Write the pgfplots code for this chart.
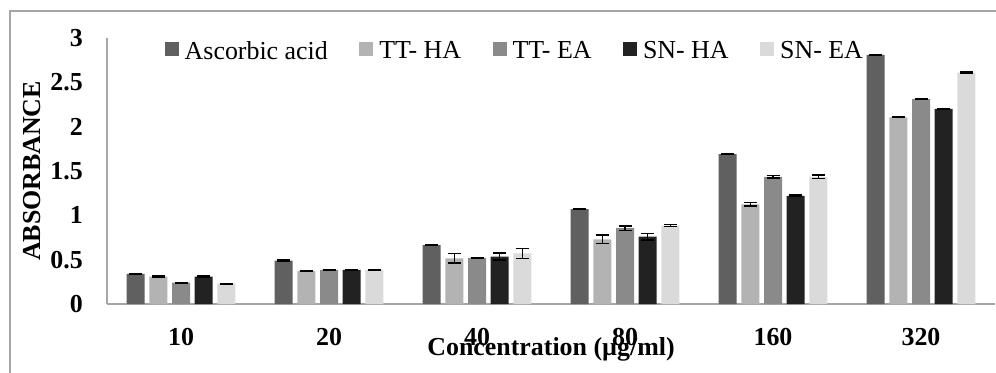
\documentclass[border=0pt]{standalone}
\usepackage{fontspec}
\setmainfont{Liberation Serif}
\usepackage{pgfplots}
\pgfplotsset{compat=1.18}
\usepackage{pgfplotstable}

\definecolor{cAsc}{HTML}{606060}
\definecolor{cTTHA}{HTML}{B3B3B3}
\definecolor{cTTEA}{HTML}{8A8A8A}
\definecolor{cSNHA}{HTML}{222222}
\definecolor{cSNEA}{HTML}{DADADA}
\definecolor{frameclr}{HTML}{A6A6A6}

\pgfplotstableread{
x asc ascE ttha tthaE ttea tteaE snha snhaE snea sneaE
0 0.34  0.004 0.31  0.004 0.24  0.004 0.31  0.004 0.23  0.004
1 0.49  0.004 0.375 0.004 0.385 0.004 0.385 0.004 0.385 0.004
2 0.665 0.004 0.515 0.055 0.52  0.004 0.535 0.040 0.57  0.056
3 1.07  0.004 0.73  0.050 0.855 0.025 0.76  0.037 0.885 0.010
4 1.69  0.004 1.125 0.022 1.435 0.015 1.22  0.010 1.435 0.020
5 2.81  0.004 2.105 0.004 2.31  0.004 2.20  0.004 2.61  0.004
}\data

\pgfplotsset{sqlegend/.style={legend image code/.code={\fill[##1] (0bp,-5bp) rectangle (14bp,9bp);}}}

\begin{document}
\begin{tikzpicture}[x=1bp,y=1bp]
\useasboundingbox (0,0) rectangle (996,372);
\draw[frameclr, line width=1.5bp] (10,-10) -- (10,361) -- (1010,361);
\begin{axis}[
  at={(107bp,68bp)}, anchor=south west,
  width=888bp, height=266bp, scale only axis,
  xmin=-0.5, xmax=5.5, ymin=0, ymax=3,
  axis x line*=bottom, axis y line*=left,
  axis line style={frameclr, line width=1.5bp, -},
  major tick length=0pt,
  xtick={0,1,2,3,4,5},
  xticklabels={10,20,40,80,160,320},
  ytick={0,0.5,1,1.5,2,2.5,3},
  yticklabels={0,0.5,1,1.5,2,2.5,3},
  ticklabel style={font=\fontsize{26}{30}\selectfont\bfseries, inner sep=0pt},
  yticklabel style={anchor=east, xshift=-24bp},
  xticklabel style={anchor=north, yshift=-24bp},
  xlabel={Concentration (µg/ml)},
  ylabel={ABSORBANCE},
  label style={font=\fontsize{26}{30}\selectfont\bfseries},
  xlabel style={at={(axis description cs:0.5,0)}, anchor=center, yshift=-45bp},
  ylabel style={at={(axis description cs:0,0.5)}, anchor=center, yshift=75bp},
  ybar=4.7bp, bar width=18bp,
  legend columns=5,
  legend style={at={(axis description cs:0.065,0.951)}, anchor=west, draw=none, fill=none,
    inner sep=0pt, outer sep=0pt, font=\fontsize{26}{30}\selectfont,
    nodes={inner sep=0pt},
    /tikz/every odd column/.append style={column sep=6bp},
    /tikz/every even column/.append style={column sep=31.5bp}},
  error bars/y dir=both, error bars/y explicit,
  error bars/error bar style={draw=black, line width=1.5bp},
  error bars/error mark options={draw=black, rotate=90, mark size=6.5bp, line width=1.5bp},
]
\addplot[fill=cAsc, draw=none, sqlegend] table[x=x, y=asc, y error=ascE]{\data};
\addplot[fill=cTTHA, draw=none, sqlegend] table[x=x, y=ttha, y error=tthaE]{\data};
\addplot[fill=cTTEA, draw=none, sqlegend] table[x=x, y=ttea, y error=tteaE]{\data};
\addplot[fill=cSNHA, draw=none, sqlegend] table[x=x, y=snha, y error=snhaE]{\data};
\addplot[fill=cSNEA, draw=none, sqlegend] table[x=x, y=snea, y error=sneaE]{\data};
\legend{Ascorbic acid, TT- HA, TT- EA, SN- HA, SN- EA}
\end{axis}
\end{tikzpicture}
\end{document}
